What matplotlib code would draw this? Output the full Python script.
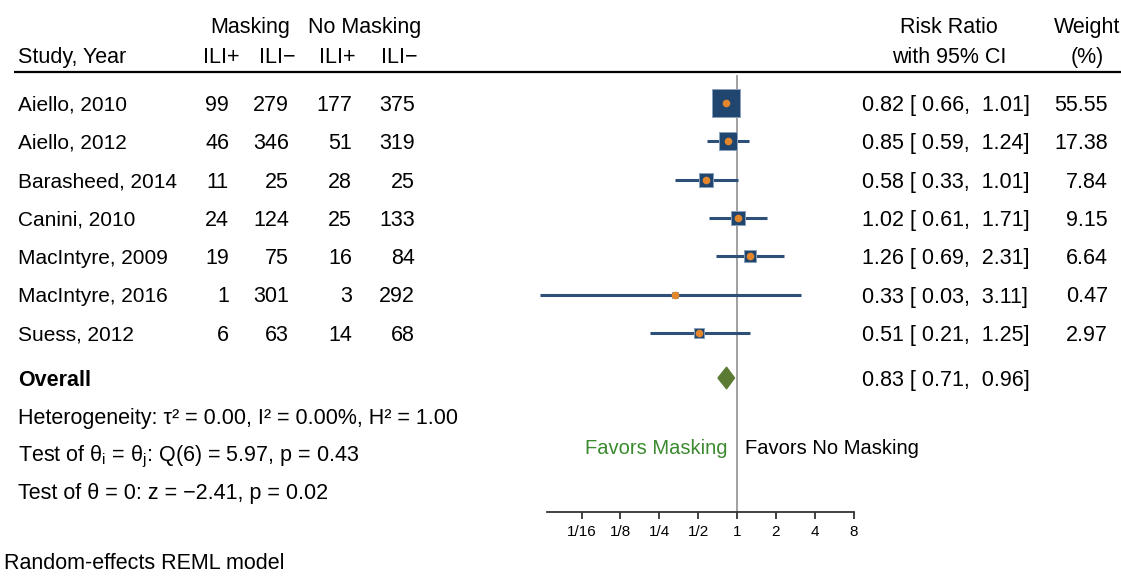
import numpy as np
import matplotlib
matplotlib.use("Agg")
import matplotlib.pyplot as plt
from matplotlib.patches import Polygon

plt.rcParams['font.family'] = ['Liberation Sans', 'DejaVu Sans']
plt.rcParams['mathtext.fontset'] = 'custom'
plt.rcParams['mathtext.rm'] = 'Liberation Sans'
plt.rcParams['mathtext.it'] = 'Liberation Sans:italic'
plt.rcParams['mathtext.bf'] = 'Liberation Sans:bold'

# ---- data ----
studies = ["Aiello, 2010", "Aiello, 2012", "Barasheed, 2014", "Canini, 2010",
           "MacIntyre, 2009", "MacIntyre, 2016", "Suess, 2012"]
mask_pos = [99, 46, 11, 24, 19, 1, 6]
mask_neg = [279, 346, 25, 124, 75, 301, 63]
nomask_pos = [177, 51, 28, 25, 16, 3, 14]
nomask_neg = [375, 319, 25, 133, 84, 292, 68]
rr = [0.82, 0.85, 0.58, 1.02, 1.26, 0.33, 0.51]
ci_lo = [0.66, 0.59, 0.33, 0.61, 0.69, 0.03, 0.21]
ci_hi = [1.01, 1.24, 1.01, 1.71, 2.31, 3.11, 1.25]
weight = [55.55, 17.38, 7.84, 9.15, 6.64, 0.47, 2.97]
overall_rr, overall_lo, overall_hi = 0.83, 0.71, 0.96
tick_vals = [1/16, 1/8, 1/4, 1/2, 1, 2, 4, 8]
tick_labels = ["1/16", "1/8", "1/4", "1/2", "1", "2", "4", "8"]

W, H = 1121, 576
fig = plt.figure(figsize=(W/100, H/100), dpi=100)

# text layer in pixel coordinates
tx = fig.add_axes([0, 0, 1, 1])
tx.set_xlim(0, W)
tx.set_ylim(H, 0)
tx.axis('off')

FS = 15.5
FS_ROW = 15
row0, dy = 103, 38.3
rows = [row0 + i*dy for i in range(len(studies))]
y_over = 378

def t(x, y, s, ha='left', **kw):
    tx.text(x, y, s, ha=ha, va='center_baseline', fontsize=kw.pop('fs', FS), **kw)

# headers
t(250, 25, "Masking", ha='center')
t(365, 25, "No Masking", ha='center')
t(18, 55, "Study, Year")
for xc, s in zip([221, 277, 337, 399], ["ILI+", "ILI\u2212", "ILI+", "ILI\u2212"]):
    t(xc, 55, s, ha='center')
t(949, 25, "Risk Ratio", ha='center')
t(949, 55, "with 95% CI", ha='center')
t(1087, 25, "Weight", ha='center')
t(1087, 55, "(%)", ha='center')
tx.plot([14, W], [72, 72], color='black', lw=1.6, solid_capstyle='butt')

# rows
for i, y in enumerate(rows):
    t(18, y, studies[i], fs=FS_ROW)
    t(229, y, str(mask_pos[i]), ha='right')
    t(289, y, str(mask_neg[i]), ha='right')
    t(352, y, str(nomask_pos[i]), ha='right')
    t(415, y, str(nomask_neg[i]), ha='right')
    t(862, y, f"{rr[i]:.2f} [ {ci_lo[i]:.2f},  {ci_hi[i]:.2f}]")
    t(1108, y, f"{weight[i]:.2f}", ha='right')

t(18, y_over, "Overall", fontweight='bold')
t(862, y_over, f"{overall_rr:.2f} [ {overall_lo:.2f},  {overall_hi:.2f}]")

t(18, 416, "Heterogeneity: \u03c4\u00b2 = 0.00, I\u00b2 = 0.00%, H\u00b2 = 1.00")
t(18, 453, r"Test of θ$_\mathrm{i}$ = θ$_\mathrm{j}$: Q(6) = 5.97, p = 0.43")
t(18, 491, "Test of \u03b8 = 0: z = \u22122.41, p = 0.02")
t(4, 561, "Random-effects REML model")

# forest axes: x pixels 530..870, y pixels 0..512 (data y == pixel y)
px0, px1, py_axis = 530, 870, 512
x_one, per_dbl = 737, 272/7
ax = fig.add_axes([px0/W, (H-py_axis)/H, (px1-px0)/W, py_axis/H])
ax.set_xscale('log', base=2)
ax.set_xlim(2**((px0-x_one)/per_dbl), 2**((px1-x_one)/per_dbl))
ax.set_ylim(py_axis, 0)
ax.patch.set_alpha(0)
for s in ['top', 'left', 'right']:
    ax.spines[s].set_visible(False)
ax.spines['bottom'].set_bounds(0.034, 8)
ax.spines['bottom'].set_linewidth(1.3)
ax.spines['bottom'].set_color('#333333')
ax.set_yticks([])
ax.set_xticks(tick_vals)
ax.set_xticklabels(tick_labels, fontsize=11)
ax.xaxis.set_minor_locator(matplotlib.ticker.NullLocator())
ax.tick_params(axis='x', direction='out', length=5, width=1.3, pad=4, color='#333333')

ax.plot([1, 1], [76, py_axis], color='#a0a0a0', lw=1.4, zorder=1)

navy = '#20466f'
for i, y in enumerate(rows):
    ax.plot([ci_lo[i], ci_hi[i]], [y, y], color='#2e4f78', lw=2.2,
            solid_capstyle='butt', zorder=2)
    side_px = 2.97*np.sqrt(weight[i]) + 4.9
    ax.scatter([rr[i]], [y], marker='s', s=(side_px*0.72)**2, color=navy,
               edgecolors='#8aa0bb', linewidths=0.7, zorder=3)
    ax.scatter([rr[i]], [y], marker='o', s=30, color='#e3862c', zorder=4,
               linewidths=0)

# overall diamond
dh = 11
diamond = Polygon([[overall_lo, y_over], [overall_rr, y_over - dh],
                   [overall_hi, y_over], [overall_rr, y_over + dh]],
                  closed=True, facecolor='#5b7b34', edgecolor='#5b7b34', lw=0.8, zorder=3)
ax.add_patch(diamond)

ax.text(0.837, 446, "Favors Masking", ha='right', va='center_baseline',
        fontsize=14.5, color='#3b8a2f')
ax.text(1.15, 446, "Favors No Masking", ha='left', va='center_baseline',
        fontsize=14.5, color='black', clip_on=False)

fig.savefig("out.png", dpi=100)
